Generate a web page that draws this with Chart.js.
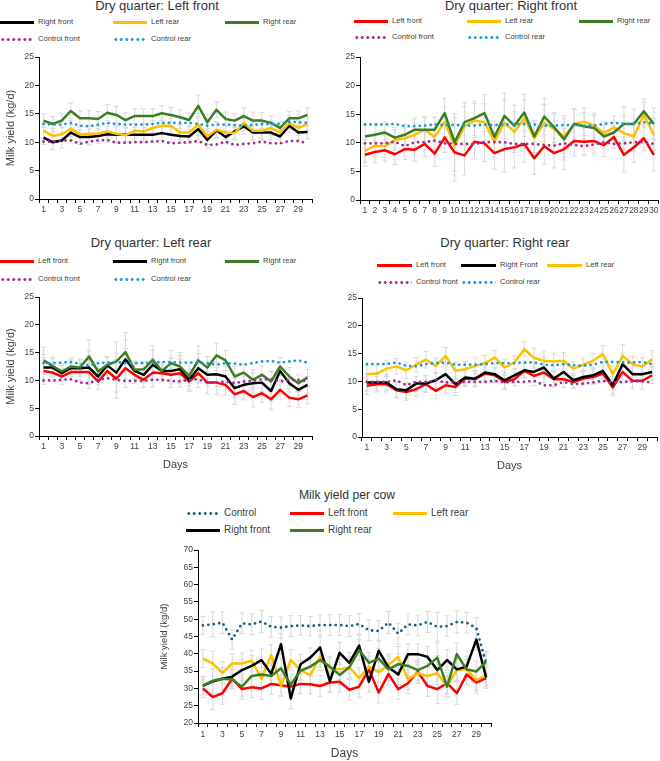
<!DOCTYPE html>
<html>
<head>
<meta charset="utf-8">
<script src="https://cdn.jsdelivr.net/npm/chart.js@4.4.1/dist/chart.umd.min.js"></script>
<style>
  body { margin: 0; width: 660px; height: 761px; position: relative; background: #fff; overflow: hidden;
         font-family: "Liberation Sans", Arial, sans-serif; }
  .title { position: absolute; color: #333; white-space: nowrap; transform: translateX(-50%); }
  .lg { position: absolute; white-space: nowrap; color: #404040; }
  .lg i { position: absolute; left: 0; top: 50%; height: 3px; margin-top: -1.5px; }
  canvas { position: absolute; }
</style>
</head>
<body>
<script>
// Dias (categorias)
const days = ['1','2','3','4','5','6','7','8','9','10','11','12','13','14','15',
              '16','17','18','19','20','21','22','23','24','25','26','27','28','29','30'];

// Dry quarter: Left front
const lfRightFront = [10.8,10.0,10.3,11.7,10.9,10.9,11.1,11.4,11.3,11.3,11.3,11.3,11.3,11.6,11.3,11.1,11.0,12.3,10.4,12.1,10.9,11.9,12.8,11.7,11.7,11.7,11.0,12.9,11.7,11.8];
const lfLeftRear   = [12.0,11.1,11.4,12.4,11.4,11.5,11.5,11.9,11.5,11.2,12.0,11.9,12.5,12.9,12.9,11.7,11.7,13.1,11.0,12.2,11.7,11.6,13.4,12.0,12.0,12.5,11.7,13.4,12.5,13.2];
const lfRightRear  = [13.8,13.2,13.8,15.5,14.2,14.2,14.1,15.2,14.8,13.9,14.6,14.6,14.6,15.1,14.8,14.4,13.9,16.4,13.5,15.7,14.1,13.8,14.6,13.8,13.8,13.4,12.5,14.2,14.2,14.8];
const lfCtrlFront  = [10.1,10.1,10.3,10.3,9.7,10.1,10.3,10.4,9.9,9.9,10.0,10.0,10.1,10.2,9.8,9.9,10.0,10.2,9.5,9.6,10.1,9.5,9.7,9.8,10.1,9.8,9.8,10.2,10.2,9.8];
const lfCtrlRear   = [13.2,13.1,13.1,13.4,12.9,12.8,13.1,13.4,13.2,13.1,13.1,13.1,13.2,13.4,13.4,13.4,13.4,13.2,12.9,13.1,13.1,13.0,12.9,13.0,13.2,13.2,13.2,13.6,13.5,13.4];
const lfErr        = [1.2,1.3,1.3,1.4,1.3,1.4,1.3,1.4,1.5,1.3,1.3,1.3,1.3,1.3,1.3,1.3,1.2,1.9,1.4,1.4,1.2,1.2,1.4,1.5,1.4,1.3,1.2,1.2,1.3,1.2];

// Dry quarter: Right front
const rfLeftFront  = [7.9,8.4,8.7,8.0,8.9,8.8,9.8,8.1,10.9,8.3,7.8,10.2,9.9,8.2,8.9,9.2,9.8,7.3,9.4,8.2,8.9,10.3,10.2,10.3,9.6,11.0,7.9,9.2,10.8,7.9];
const rfLeftRear   = [8.6,9.5,9.4,10.5,10.8,11.4,12.3,11.0,13.7,9.4,12.9,13.9,13.6,10.2,13.5,11.9,14.3,10.8,13.5,12.4,11.1,13.3,13.7,13.0,11.7,12.7,11.7,11.1,14.9,11.4];
const rfRightRear  = [11.1,11.4,11.8,10.9,11.4,12.3,12.3,12.3,15.2,10.1,13.6,14.3,15.2,11.0,14.7,13.0,15.3,11.1,14.6,12.7,10.6,13.3,12.9,12.6,11.1,11.8,13.3,13.3,15.5,13.3];
const rfCtrlFront  = [9.9,9.9,9.9,10.2,9.4,10.1,10.1,10.4,9.9,9.8,9.8,9.8,10.1,10.1,10.1,9.8,9.8,9.8,9.6,9.5,9.9,9.6,9.4,9.7,10.1,9.8,9.9,10.1,10.1,9.8];
const rfCtrlRear   = [13.2,13.2,13.2,13.3,12.9,12.9,13.0,13.2,13.1,13.1,13.0,13.0,13.2,13.1,13.2,13.2,13.3,13.2,13.0,13.0,13.1,13.1,13.0,13.0,13.3,13.5,13.3,13.3,13.6,13.3];
const rfErr        = [2.0,1.9,1.9,1.8,1.8,2.0,2.2,2.2,2.6,5.0,3.4,3.0,3.2,2.8,4.0,3.6,3.2,2.8,3.2,2.6,3.6,2.6,2.4,2.2,2.0,2.0,3.0,2.6,2.2,2.8];

// Dry quarter: Left rear
const lrLeftFront  = [11.7,11.4,10.7,11.5,11.5,11.5,9.8,11.7,10.3,12.2,11.0,10.1,11.4,11.3,11.0,11.3,9.8,11.3,9.6,9.6,9.2,7.5,8.1,7.0,7.7,6.6,8.3,6.9,6.6,7.3];
const lrRightFront = [12.3,12.3,11.3,12.2,12.2,12.3,10.7,12.7,11.4,13.8,11.7,11.0,12.8,11.7,11.7,12.0,10.1,12.2,11.0,11.1,10.7,8.6,9.2,9.5,9.6,8.1,11.7,9.5,8.3,9.2];
const lrRightRear  = [13.6,12.6,11.6,12.5,12.3,14.3,11.6,12.8,13.4,15.1,11.9,12.0,13.7,11.7,13.1,12.5,10.8,13.6,12.3,14.5,13.6,10.7,11.4,10.1,11.0,9.8,12.5,10.7,9.5,10.5];
const lrCtrlFront  = [10.0,10.0,10.1,10.2,9.6,9.5,10.1,10.4,10.1,9.9,9.9,9.9,10.1,10.1,9.9,9.8,10.1,10.2,9.6,9.6,9.8,9.5,9.8,9.9,10.2,10.2,9.8,10.1,10.1,9.8];
const lrCtrlRear   = [13.1,13.1,13.2,13.3,13.0,12.7,13.1,13.2,13.3,13.1,13.1,13.1,13.2,13.3,13.3,13.2,13.2,13.2,13.1,12.8,13.1,13.0,12.8,13.1,13.4,13.5,13.2,13.4,13.6,13.2];
const lrErr        = [2.4,1.6,1.4,1.5,1.5,3.0,1.4,1.5,3.5,3.5,1.6,1.4,2.6,1.5,2.3,2.5,1.8,2.6,2.0,2.2,1.8,1.8,1.6,1.8,1.6,1.8,1.6,1.6,1.5,1.5];

// Dry quarter: Right rear
const rrLeftFront  = [9.2,9.5,9.5,8.4,8.1,8.6,9.5,8.3,9.3,9.0,10.5,10.4,11.4,11.1,9.9,10.4,11.9,11.0,11.6,10.4,10.4,9.9,10.5,10.8,11.4,8.9,11.7,10.1,10.1,11.1];
const rrRightFront = [9.8,9.8,9.8,8.6,8.4,9.6,9.6,10.2,11.3,9.5,10.7,10.5,11.6,11.3,10.2,11.1,12.0,11.7,12.5,10.5,11.7,10.2,10.8,11.1,11.9,9.3,13.1,11.3,11.3,11.7];
const rrLeftRear   = [11.3,11.4,12.3,12.7,12.0,13.0,13.9,12.8,14.6,11.9,12.2,12.8,13.3,14.3,12.5,13.4,15.8,14.2,13.7,13.6,13.7,12.3,13.0,13.7,14.9,11.3,14.6,13.1,12.7,14.0];
const rrCtrlFront  = [9.9,9.9,9.9,10.2,9.3,9.9,9.9,10.2,9.8,9.8,9.9,9.9,9.9,10.1,9.8,9.9,9.9,10.1,9.3,9.3,9.9,9.5,9.6,9.8,10.1,9.8,9.9,10.0,10.0,9.8];
const rrCtrlRear   = [13.1,13.1,13.1,13.4,12.8,12.7,13.1,13.3,13.4,13.0,13.0,13.0,13.1,13.3,13.3,13.3,13.4,13.4,13.0,12.9,13.1,12.9,12.8,13.0,13.5,13.5,13.4,13.4,13.5,13.1];
const rrErr        = [1.5,1.4,1.4,1.4,1.5,1.3,1.5,1.4,1.5,1.5,1.4,1.4,1.4,1.3,1.4,1.2,1.3,1.8,1.8,1.4,1.5,1.2,1.2,1.3,1.5,1.5,2.0,1.4,1.5,1.5];

// Milk yield per cow
const cowControl    = [48.2,48.5,49.0,44.1,48.8,48.5,49.3,47.8,47.6,48.0,48.2,48.0,48.3,48.3,48.3,48.0,48.6,46.8,46.6,49.0,45.8,48.5,48.2,49.2,47.8,48.0,49.2,49.0,47.4,37.2];
const cowLeftFront  = [30.0,27.5,28.6,32.8,29.8,30.3,30.0,31.3,30.9,30.5,31.3,31.2,30.7,31.7,31.9,29.6,30.5,35.5,28.8,34.2,29.8,31.5,34.8,30.7,29.8,31.5,28.6,34.0,31.7,33.0];
const cowLeftRear   = [38.6,37.2,34.5,37.2,37.2,38.0,32.8,39.7,30.7,38.2,35.3,33.8,39.1,35.8,35.5,36.1,33.0,36.3,34.7,36.7,39.1,32.6,34.4,33.6,34.4,30.7,35.3,35.5,32.4,33.8];
const cowRightFront = [30.7,32.0,32.8,33.4,35.3,36.5,38.2,34.2,42.8,27.1,37.0,38.9,41.8,32.1,40.3,37.4,42.4,31.9,40.9,36.1,34.0,39.9,39.9,39.1,35.3,38.2,35.5,36.3,44.1,33.2];
const cowRightRear  = [30.9,32.2,32.8,32.6,30.5,33.6,34.0,33.6,35.8,31.1,35.1,36.3,38.2,36.3,33.9,36.1,41.1,37.4,38.6,35.5,37.0,36.5,35.3,36.5,38.9,30.5,39.9,35.5,34.9,37.7];
const cowErr        = [2.6,3.6,3.2,2.8,3.0,3.0,3.2,3.0,3.0,3.0,2.8,2.8,3.0,3.0,3.0,3.0,3.0,3.0,3.0,3.2,3.0,3.0,3.0,3.0,4.2,3.0,3.2,3.0,3.0,3.0];

// Cores
const RED = '#FF0000', YELLOW = '#FFC000', GREEN = '#3B7D23', BLACK = '#000000';
const PURPLE = '#A02B93', SKY = '#0F9ED5', NAVY = '#156082';
const FONT = '"Liberation Sans", Arial, sans-serif';
const TEXT = '#404040';

// Barras de erro cinza claro, desenhadas por baixo das linhas
const errorBarPlugin = {
  id: 'errorBars',
  beforeDatasetsDraw(chart) {
    const ctx = chart.ctx;
    const yScale = chart.scales.y;
    ctx.save();
    ctx.strokeStyle = '#d9d9d9';
    ctx.lineWidth = 1;
    chart.data.datasets.forEach((ds, i) => {
      if (!ds.errors) return;
      chart.getDatasetMeta(i).data.forEach((pt, j) => {
        const top = yScale.getPixelForValue(ds.data[j] + ds.errors[j]);
        const bot = yScale.getPixelForValue(ds.data[j] - ds.errors[j]);
        ctx.beginPath();
        ctx.moveTo(pt.x, top); ctx.lineTo(pt.x, bot);
        ctx.moveTo(pt.x - 2.5, top); ctx.lineTo(pt.x + 2.5, top);
        ctx.moveTo(pt.x - 2.5, bot); ctx.lineTo(pt.x + 2.5, bot);
        ctx.stroke();
      });
    });
    ctx.restore();
  }
};

function buildPanel(p) {
  // Título
  const t = document.createElement('div');
  t.className = 'title';
  t.textContent = p.title;
  t.style.fontSize = p.titleSize + 'px';
  t.style.lineHeight = (p.titleSize * 1.2) + 'px';
  t.style.left = p.titleX + 'px';
  t.style.top = (p.titleY - p.titleSize * 0.6) + 'px';
  document.body.appendChild(t);

  // Legenda em colunas
  p.series.forEach((s, i) => {
    const item = document.createElement('div');
    item.className = 'lg';
    item.style.left = p.legendCols[i % 3] + 'px';
    item.style.top = (p.legendRows[Math.floor(i / 3)] - 6) + 'px';
    item.style.height = '12px';
    item.style.lineHeight = '12px';
    item.style.fontSize = p.legendSize + 'px';
    item.style.paddingLeft = (p.legendLine + 4) + 'px';
    const mark = document.createElement('i');
    mark.style.width = p.legendLine + 'px';
    mark.style.background = s.dotted
      ? 'radial-gradient(circle, ' + s.color + ' 1.2px, transparent 1.7px) 0 50% / 5.5px 3px repeat-x'
      : s.color;
    item.appendChild(mark);
    item.appendChild(document.createTextNode(s.label));
    document.body.appendChild(item);
  });

  // Canvas do gráfico
  const canvas = document.createElement('canvas');
  canvas.width = p.box.w;
  canvas.height = p.box.h;
  canvas.style.left = p.box.x + 'px';
  canvas.style.top = p.box.y + 'px';
  document.body.appendChild(canvas);

  const n = p.series.length;
  new Chart(canvas, {
    type: 'line',
    data: {
      labels: days,
      datasets: p.series.map((s, i) => ({
        label: s.label,
        data: s.data,
        borderColor: s.color,
        backgroundColor: s.color,
        borderWidth: s.dotted ? 2.8 : 2.5,
        borderDash: s.dotted ? [0, 5.5] : [],
        borderCapStyle: s.dotted ? 'round' : 'butt',
        borderJoinStyle: 'round',
        pointRadius: 0,
        tension: 0,
        fill: false,
        errors: (s.dotted && !p.errOnControl) ? null : p.errors,
        order: n - i
      }))
    },
    options: {
      responsive: false,
      animation: false,
      devicePixelRatio: 1,
      layout: { autoPadding: false, padding: { top: p.padTop, right: p.padRight, left: 0, bottom: 0 } },
      plugins: { legend: { display: false }, tooltip: { enabled: false } },
      scales: {
        x: {
          type: 'category',
          offset: true,
          grid: { offset: true, drawOnChartArea: false, drawTicks: true, tickLength: 4, color: '#000' },
          border: { color: '#000', width: 1 },
          ticks: {
            autoSkip: false, maxRotation: 0, minRotation: 0,
            padding: p.xTickPad, color: TEXT,
            font: { family: FONT, size: p.tickSize },
            callback: function (v, i) { return i % p.tickEvery === 0 ? this.getLabelForValue(v) : ''; }
          },
          title: p.xTitle
            ? { display: true, text: p.xTitle, color: TEXT, font: { family: FONT, size: p.xTitleSize }, padding: { top: 0, bottom: p.xTitlePad } }
            : { display: false },
          afterFit: s => { s.height = p.xAxisH; }
        },
        y: {
          min: p.yMin,
          max: p.yMax,
          grid: { drawOnChartArea: false, drawTicks: true, tickLength: 4, color: '#000' },
          border: { color: '#000', width: 1 },
          ticks: { stepSize: 5, padding: 1, color: TEXT, font: { family: FONT, size: p.tickSize } },
          title: p.yTitle
            ? { display: true, text: p.yTitle, color: TEXT, font: { family: FONT, size: p.yTitleSize }, padding: { top: p.yTitlePad, bottom: 0 } }
            : { display: false },
          afterFit: s => { s.width = p.yAxisW; }
        }
      }
    },
    plugins: [errorBarPlugin]
  });
}

// Painéis
buildPanel({
  title: 'Dry quarter: Left front', titleX: 157, titleY: 6, titleSize: 13,
  legendCols: [0, 113, 225], legendRows: [22, 39], legendLine: 34, legendSize: 7.6,
  series: [
    { label: 'Right front', data: lfRightFront, color: BLACK },
    { label: 'Left rear', data: lfLeftRear, color: YELLOW },
    { label: 'Right rear', data: lfRightRear, color: GREEN },
    { label: 'Control front', data: lfCtrlFront, color: PURPLE, dotted: true },
    { label: 'Control rear', data: lfCtrlRear, color: SKY, dotted: true }
  ],
  errors: lfErr,
  box: { x: 0, y: 47, w: 316, h: 168 }, padTop: 10, padRight: 4, yAxisW: 39, xAxisH: 16,
  yMin: 0, yMax: 25, tickSize: 8.5, xTickPad: 1.5, tickEvery: 2,
  yTitle: 'Milk yield (kg/d)', yTitleSize: 11, yTitlePad: 4
});

buildPanel({
  title: 'Dry quarter: Right front', titleX: 511, titleY: 6, titleSize: 13,
  legendCols: [354, 467, 579], legendRows: [21, 37], legendLine: 34, legendSize: 7.6,
  series: [
    { label: 'Left front', data: rfLeftFront, color: RED },
    { label: 'Left rear', data: rfLeftRear, color: YELLOW },
    { label: 'Right rear', data: rfRightRear, color: GREEN },
    { label: 'Control front', data: rfCtrlFront, color: PURPLE, dotted: true },
    { label: 'Control rear', data: rfCtrlRear, color: SKY, dotted: true }
  ],
  errors: rfErr,
  box: { x: 330, y: 47, w: 330, h: 169 }, padTop: 10, padRight: 0, yAxisW: 30, xAxisH: 16,
  yMin: 0, yMax: 25, tickSize: 8.5, xTickPad: 1.5, tickEvery: 1
});

buildPanel({
  title: 'Dry quarter: Left rear', titleX: 151, titleY: 243, titleSize: 13,
  legendCols: [0, 113, 225], legendRows: [261, 279], legendLine: 34, legendSize: 7.6,
  series: [
    { label: 'Left front', data: lrLeftFront, color: RED },
    { label: 'Right front', data: lrRightFront, color: BLACK },
    { label: 'Right rear', data: lrRightRear, color: GREEN },
    { label: 'Control front', data: lrCtrlFront, color: PURPLE, dotted: true },
    { label: 'Control rear', data: lrCtrlRear, color: SKY, dotted: true }
  ],
  errors: lrErr,
  box: { x: 0, y: 287, w: 316, h: 185 }, padTop: 10, padRight: 4, yAxisW: 39, xAxisH: 36,
  yMin: 0, yMax: 25, tickSize: 8.5, xTickPad: 1.5, tickEvery: 2,
  yTitle: 'Milk yield (kg/d)', yTitleSize: 11, yTitlePad: 4,
  xTitle: 'Days', xTitleSize: 11, xTitlePad: 0.5
});

buildPanel({
  title: 'Dry quarter: Right rear', titleX: 505, titleY: 243, titleSize: 13,
  legendCols: [377, 461, 547], legendRows: [265, 282], legendLine: 35, legendSize: 7.6,
  series: [
    { label: 'Left front', data: rrLeftFront, color: RED },
    { label: 'Right Front', data: rrRightFront, color: BLACK },
    { label: 'Left rear', data: rrLeftRear, color: YELLOW },
    { label: 'Control front', data: rrCtrlFront, color: PURPLE, dotted: true },
    { label: 'Control rear', data: rrCtrlRear, color: SKY, dotted: true }
  ],
  errors: rrErr,
  box: { x: 330, y: 288, w: 330, h: 185 }, padTop: 10, padRight: 3, yAxisW: 32, xAxisH: 36,
  yMin: 0, yMax: 25, tickSize: 8.5, xTickPad: 1.5, tickEvery: 2,
  xTitle: 'Days', xTitleSize: 11, xTitlePad: 0.5
});

buildPanel({
  title: 'Milk yield per cow', titleX: 347, titleY: 495, titleSize: 12.2,
  legendCols: [186, 290, 393], legendRows: [513, 530], legendLine: 34, legendSize: 10,
  series: [
    { label: 'Control', data: cowControl, color: NAVY, dotted: true },
    { label: 'Left front', data: cowLeftFront, color: RED },
    { label: 'Left rear', data: cowLeftRear, color: YELLOW },
    { label: 'Right front', data: cowRightFront, color: BLACK },
    { label: 'Right rear', data: cowRightRear, color: GREEN }
  ],
  errors: cowErr, errOnControl: true,
  box: { x: 150, y: 540, w: 345, h: 221 }, padTop: 10, padRight: 4, yAxisW: 48, xAxisH: 38,
  yMin: 20, yMax: 70, tickSize: 8.5, xTickPad: 3, tickEvery: 2,
  yTitle: 'Milk yield (kg/d)', yTitleSize: 9.5, yTitlePad: 9,
  xTitle: 'Days', xTitleSize: 12, xTitlePad: 0
});
</script>
</body>
</html>
